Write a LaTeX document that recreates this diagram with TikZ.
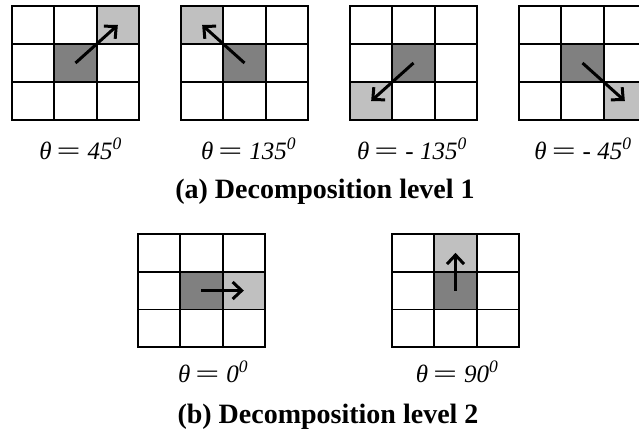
\documentclass[tikz,border=0pt]{standalone}
\usepackage{graphicx}
\usepackage{fontspec}
\setmainfont{Liberation Serif}
\usetikzlibrary{arrows.meta}
\definecolor{darkcell}{HTML}{808080}
\definecolor{lightcell}{HTML}{C0C0C0}
\tikzset{
  gridline/.style={line width=1.8pt, draw=black},
  darkfill/.style={fill=darkcell},
  lightfill/.style={fill=lightcell},
  dirarrow/.style={line width=3pt, -{Straight Barb[length=9pt,width=17pt,line width=3pt]}},
  anglelabel/.style={font=\fontsize{25}{30}\selectfont, anchor=base, inner sep=0pt},
  captiontext/.style={font=\bfseries\fontsize{28}{32}\selectfont, anchor=base, inner sep=0pt},
}
\newcommand{\cellgrid}{%
  \foreach \k in {1,2}{\draw[gridline] (\k,0) -- (\k,3); \draw[gridline] (0,\k) -- (3,\k);}
  \draw[gridline] (0,0) rectangle (3,3);}
\newcommand{\angtext}[1]{{\itshape θ}\hspace{5pt}\scalebox{1.7}[1]{=}\hspace{7pt}{\itshape #1\textsuperscript{0}}}
\begin{document}
\begin{tikzpicture}[x=1pt, y=-1pt]
\useasboundingbox (0,0) rectangle (639,434);
\clip (0,0) rectangle (639,434);
\fill[white] (0,0) rectangle (639,434);
% grid 1: 45
\begin{scope}[shift={(12,6)}, x=42.33pt, y=-38pt]
  \fill[darkfill] (1,1) rectangle (2,2);
  \fill[lightfill] (2,0) rectangle (3,1);
  \cellgrid
  \coordinate (g1s) at (1.5,1.5); \coordinate (g1e) at (2.5,0.5);
  \draw[dirarrow] (g1s) -- (g1e);
\end{scope}
% grid 2: 135
\begin{scope}[shift={(181,6)}, x=42.33pt, y=-38pt]
  \fill[darkfill] (1,1) rectangle (2,2);
  \fill[lightfill] (0,0) rectangle (1,1);
  \cellgrid
  \coordinate (g2s) at (1.5,1.5); \coordinate (g2e) at (0.5,0.5);
  \draw[dirarrow] (g2s) -- (g2e);
\end{scope}
% grid 3: -135
\begin{scope}[shift={(350,6)}, x=42.33pt, y=-38pt]
  \fill[darkfill] (1,1) rectangle (2,2);
  \fill[lightfill] (0,2) rectangle (1,3);
  \cellgrid
  \coordinate (g3s) at (1.5,1.5); \coordinate (g3e) at (0.5,2.5);
  \draw[dirarrow] (g3s) -- (g3e);
\end{scope}
% grid 4: -45
\begin{scope}[shift={(519,6)}, x=42.33pt, y=-38pt]
  \fill[darkfill] (1,1) rectangle (2,2);
  \fill[lightfill] (2,2) rectangle (3,3);
  \cellgrid
  \coordinate (g4s) at (1.5,1.5); \coordinate (g4e) at (2.5,2.5);
  \draw[dirarrow] (g4s) -- (g4e);
\end{scope}
% grid 5: 0
\begin{scope}[shift={(138,234)}, x=42.33pt, y=-37.7pt]
  \fill[darkfill] (1,1) rectangle (2,2);
  \fill[lightfill] (2,1) rectangle (3,2);
  \cellgrid
  \coordinate (g5s) at (1.5,1.5); \coordinate (g5e) at (2.5,1.5);
  \draw[dirarrow] (g5s) -- (g5e);
\end{scope}
% grid 6: 90
\begin{scope}[shift={(392,234)}, x=42.33pt, y=-37.7pt]
  \fill[darkfill] (1,1) rectangle (2,2);
  \fill[lightfill] (1,0) rectangle (2,1);
  \cellgrid
  \coordinate (g6s) at (1.5,1.5); \coordinate (g6e) at (1.5,0.5);
  \draw[dirarrow] (g6s) -- (g6e);
\end{scope}
% labels
\node[anglelabel] (l1) at (80.5,159) {\angtext{45}};
\node[anglelabel] (l2) at (248.7,159) {\angtext{135}};
\node[anglelabel] (l3) at (412,159) {\angtext{- 135}};
\node[anglelabel] (l4) at (583,159) {\angtext{- 45}};
\node[anglelabel] (l5) at (213,382) {\angtext{0}};
\node[anglelabel] (l6) at (457,382) {\angtext{90}};
\node[captiontext] (ca) at (325,198) {(a) Decomposition level 1};
\node[captiontext] (cb) at (328,423) {(b) Decomposition level 2};
\end{tikzpicture}
\end{document}
